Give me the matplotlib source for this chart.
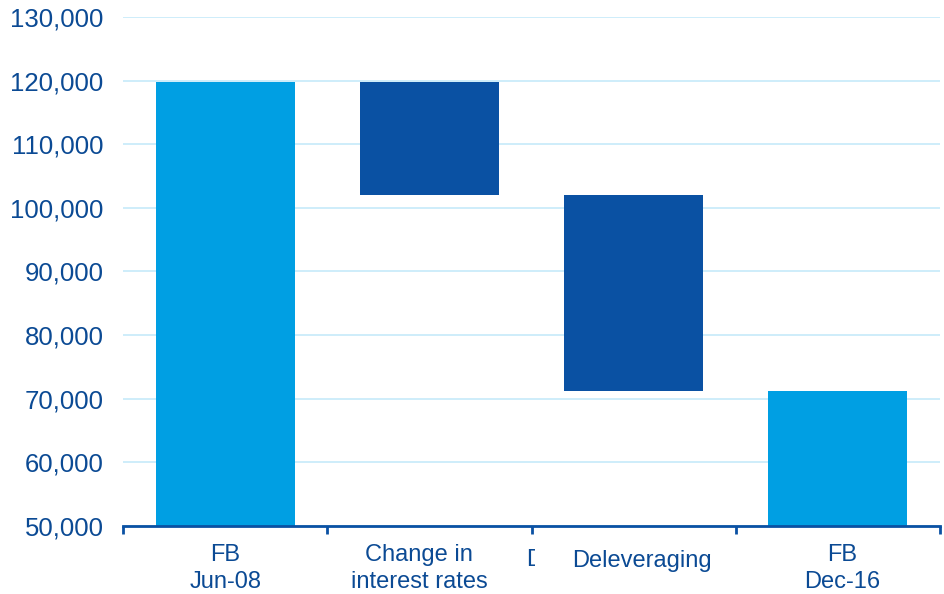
import numpy as np
import matplotlib
matplotlib.use("Agg")
from matplotlib import pyplot as plt
from matplotlib.transforms import Bbox

# waterfall data
categories = ["FB\nJun-08", "Change in\ninterest rates", "Deleveraging", "FB\nDec-16"]
start_value = 119700
changes = [-17700, -30800]
end_value = 71200

light_blue = "#009fe3"
dark_blue = "#0a51a3"
text_blue = "#0b4a94"

# bottoms / heights for each bar
levels = np.cumsum([start_value] + changes)
bottoms = [50000] + list(levels[1:]) + [50000]
tops = [start_value] + list(levels[:-1]) + [end_value]
heights = [t - b for t, b in zip(tops, bottoms)]
colors = [light_blue, dark_blue, dark_blue, light_blue]

plt.rcParams['font.family'] = ['Liberation Sans', 'DejaVu Sans']

fig = plt.figure(figsize=(9.44, 5.94), dpi=100)
ax = fig.add_axes([0.1303, 0.1145, 0.8655, 0.857])

x = np.arange(len(categories))
ax.bar(x, heights, bottom=bottoms, width=0.68, color=colors,
       edgecolor="none", zorder=3)

ax.set_ylim(50000, 130000)
ax.set_xlim(-0.5, 3.5)
ax.set_yticks(np.arange(50000, 130001, 10000))
ax.set_yticklabels([f"{v:,}" for v in range(50000, 130001, 10000)],
                   fontsize=18.5, color=text_blue)
ax.yaxis.grid(True, color="#c6eafa", linewidth=1.2, zorder=0)
ax.tick_params(axis="y", length=0, pad=14)

for s in ["top", "right", "left"]:
    ax.spines[s].set_visible(False)
ax.spines["bottom"].set_color(dark_blue)
ax.spines["bottom"].set_linewidth(2)
ax.spines["bottom"].set_zorder(4)

# ticks at category boundaries, labels placed separately
ax.set_xticks(np.arange(-0.5, 4, 1))
ax.set_xticklabels([])
ax.tick_params(axis="x", length=6, width=2, color=dark_blue, direction="out")

label_offsets = [0.0, -0.05, 0.04, 0.02]
for i, (cat, off) in enumerate(zip(categories, label_offsets)):
    if "\n" in cat:
        ax.text(i + off, -0.035, cat, transform=ax.get_xaxis_transform(),
                ha="center", va="top", fontsize=17, color=text_blue,
                linespacing=1.28)
    else:
        ax.text(i + off, -0.069, cat, transform=ax.get_xaxis_transform(),
                ha="center", va="center", fontsize=17, color=text_blue)

# clipped stray label fragment
t = fig.text(526 / 944, 1 - 560 / 594, "D", ha="left", va="center",
             fontsize=17, color=text_blue)
t.set_clip_box(Bbox([[0, 0], [535, 594]]))
t.set_clip_on(True)

fig.savefig("out.png", dpi=100)
